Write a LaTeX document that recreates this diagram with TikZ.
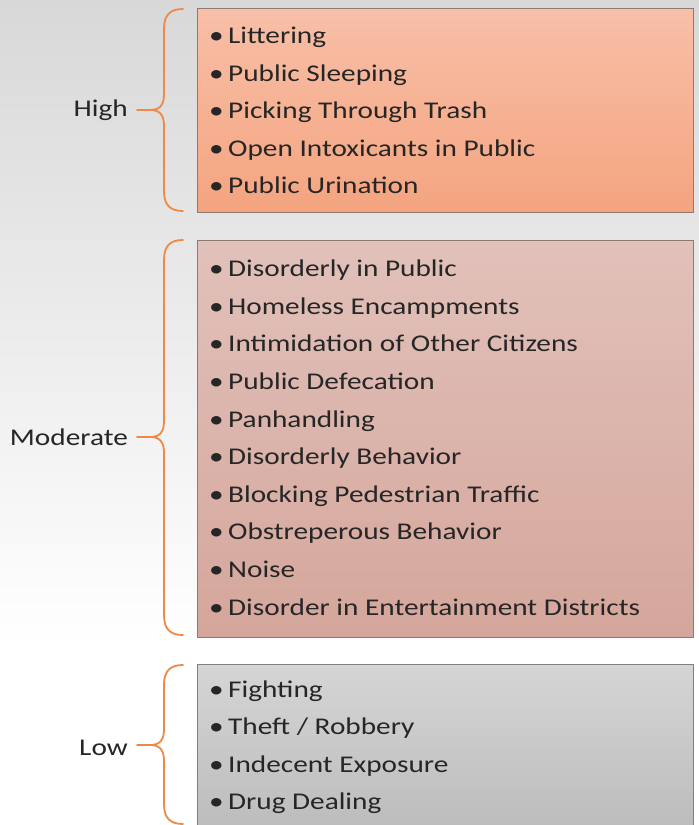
\documentclass[tikz,border=0pt]{standalone}
\usepackage{fontspec}
\setmainfont{Carlito}[FakeStretch=1.22]
\usetikzlibrary{calc}
\definecolor{bgtop}{HTML}{D8D8D8}
\definecolor{braceorange}{HTML}{EE8A45}
\definecolor{hitop}{HTML}{F8BFA8}
\definecolor{hibot}{HTML}{F4A47F}
\definecolor{modtop}{HTML}{E1C1BA}
\definecolor{modbot}{HTML}{D5A69B}
\definecolor{lowtop}{HTML}{D5D5D5}
\definecolor{lowbot}{HTML}{C2C2C2}
\definecolor{edgebrown}{HTML}{8C7A73}
\def\levelbrace(#1:#2:#3){\draw[lvlbrace] (183,#1) .. controls (170,#1) and (164,#1+6) .. (164,#1+20) -- (164,#2-16) .. controls (164,#2-5) and (160,#2) .. (150,#2) -- (137,#2) -- (150,#2) .. controls (160,#2) and (164,#2+5) .. (164,#2+16) -- (164,#3-20) .. controls (164,#3-6) and (170,#3) .. (183,#3);}
\tikzset{
  lvlbrace/.style={draw=braceorange, line width=1.8pt, line join=round, line cap=round},
  lvlbox/.style={draw=edgebrown, line width=1.2pt, anchor=north west, minimum width=496pt, inner sep=0pt},
  item/.style={anchor=base west, inner sep=0pt, text=black!85, font=\fontsize{24}{28}\selectfont},
  lvllabel/.style={anchor=base east, inner sep=0pt, text=black!85, font=\fontsize{24}{28}\selectfont}
}

\begin{document}
\begin{tikzpicture}[x=1pt, y=-1pt]
	%%%%% START %%%%%
	
	\useasboundingbox (0,0) rectangle (699,825);
	\fill[white] (0,0) rectangle (699,825);
	\shade[top color=bgtop, bottom color=white] (0,0) rectangle (699,645);
	
	\node[lvlbox, minimum height=204pt, top color=hitop, bottom color=hibot] (hibox) at (197,8) {};
	\node[lvlbox, minimum height=397pt, top color=modtop, bottom color=modbot] (modbox) at (197,240) {};
	\node[lvlbox, draw=black!50, minimum height=190pt, top color=lowtop, bottom color=lowbot!95!black] (lowbox) at (197,664) {};
	
	\node[lvllabel] (high) at (128,116.5) {High};
	\node[lvllabel] (moderate) at (128,445) {Moderate};
	\node[lvllabel] (low) at (128,755) {Low};
	
	\levelbrace(9:110:211);
	\levelbrace(240:437:635);
	\levelbrace(665:745:824);
	
	\foreach \txt [count=\i] in {Littering, Public Sleeping, Picking Through Trash, Open Intoxicants in Public, Public Urination}
		\node[item] (hi\i) at (209,43.5+37.5*\i-37.5) {\makebox[19pt][l]{\textbullet}\txt};
	
	\foreach \txt [count=\i] in {Disorderly in Public, Homeless Encampments, Intimidation of Other Citizens, Public Defecation, Panhandling, Disorderly Behavior, Blocking Pedestrian Traffic, Obstreperous Behavior, Noise, Disorder in Entertainment Districts}
		\node[item] (mod\i) at (209,276.7+37.6*\i-37.6) {\makebox[19pt][l]{\textbullet}\txt};
	
	\foreach \txt [count=\i] in {Fighting, Theft / Robbery, Indecent Exposure, Drug Dealing}
		\node[item] (low\i) at (209,697+37.6*\i-37.6) {\makebox[19pt][l]{\textbullet}\txt};
	
	%%%%% END %%%%%
\end{tikzpicture}
\end{document}
